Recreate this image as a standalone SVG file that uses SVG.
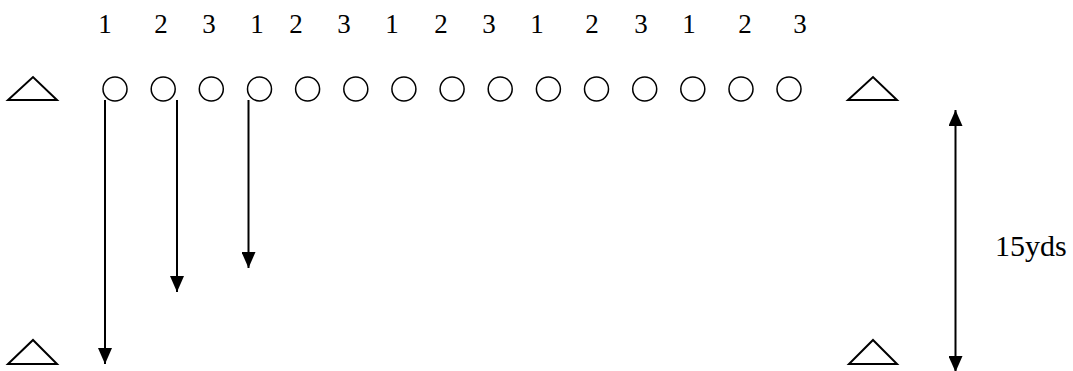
<svg xmlns="http://www.w3.org/2000/svg" width="1073" height="371" viewBox="0 0 1073 371">
<style>
.c{fill:none;stroke:#000;stroke-width:1.5}
.t{fill:none;stroke:#000;stroke-width:2}
.a{stroke:#000;stroke-width:2;fill:none}
</style>
<defs>
<marker id="ah" viewBox="0 0 16 14" refX="16" refY="7" markerWidth="16" markerHeight="14" markerUnits="userSpaceOnUse" orient="auto-start-reverse">
<path d="M0,0 L16,7 L0,14 Z" fill="#000"/>
</marker>
</defs>
<rect width="1073" height="371" fill="#fff"/>
<g id="numbers" font-family="Liberation Serif, Times New Roman, serif" font-size="27" text-anchor="middle" fill="#000">
<text x="105" y="33">1</text>
<text x="161" y="33">2</text>
<text x="209" y="33">3</text>
<text x="257" y="33">1</text>
<text x="296" y="33">2</text>
<text x="344" y="33">3</text>
<text x="392" y="33">1</text>
<text x="441" y="33">2</text>
<text x="489" y="33">3</text>
<text x="537" y="33">1</text>
<text x="592" y="33">2</text>
<text x="641" y="33">3</text>
<text x="689" y="33">1</text>
<text x="745" y="33">2</text>
<text x="800" y="33">3</text>
</g>
<g id="cone-top-left"><polygon class="t" points="8,100 57,100 33,77"/></g>
<g id="cone-top-right"><polygon class="t" points="848,100 897,100 873,77"/></g>
<g id="cone-bottom-left"><polygon class="t" points="8,364 57,364 33,340"/></g>
<g id="cone-bottom-right"><polygon class="t" points="849,364 897,364 873,340"/></g>
<g id="players">
<circle class="c" cx="115" cy="89" r="12"/>
<circle class="c" cx="163.2" cy="89" r="12"/>
<circle class="c" cx="211.3" cy="89" r="12"/>
<circle class="c" cx="259.5" cy="89" r="12"/>
<circle class="c" cx="307.6" cy="89" r="12"/>
<circle class="c" cx="355.8" cy="89" r="12"/>
<circle class="c" cx="403.9" cy="89" r="12"/>
<circle class="c" cx="452.1" cy="89" r="12"/>
<circle class="c" cx="500.2" cy="89" r="12"/>
<circle class="c" cx="548.4" cy="89" r="12"/>
<circle class="c" cx="596.5" cy="89" r="12"/>
<circle class="c" cx="644.7" cy="89" r="12"/>
<circle class="c" cx="692.8" cy="89" r="12"/>
<circle class="c" cx="741" cy="89" r="12"/>
<circle class="c" cx="789" cy="89" r="12"/>
</g>
<g id="connectors">
<line class="a" x1="105" y1="100" x2="105" y2="364" marker-end="url(#ah)"/>
<line class="a" x1="177" y1="100" x2="177" y2="292" marker-end="url(#ah)"/>
<line class="a" x1="248.5" y1="100" x2="248.5" y2="268" marker-end="url(#ah)"/>
<line class="a" x1="955.5" y1="110" x2="955.5" y2="372" marker-start="url(#ah)" marker-end="url(#ah)"/>
</g>
<g id="label" font-family="Liberation Serif, Times New Roman, serif" font-size="30" fill="#000"><text x="995" y="256">15yds</text></g>
</svg>
